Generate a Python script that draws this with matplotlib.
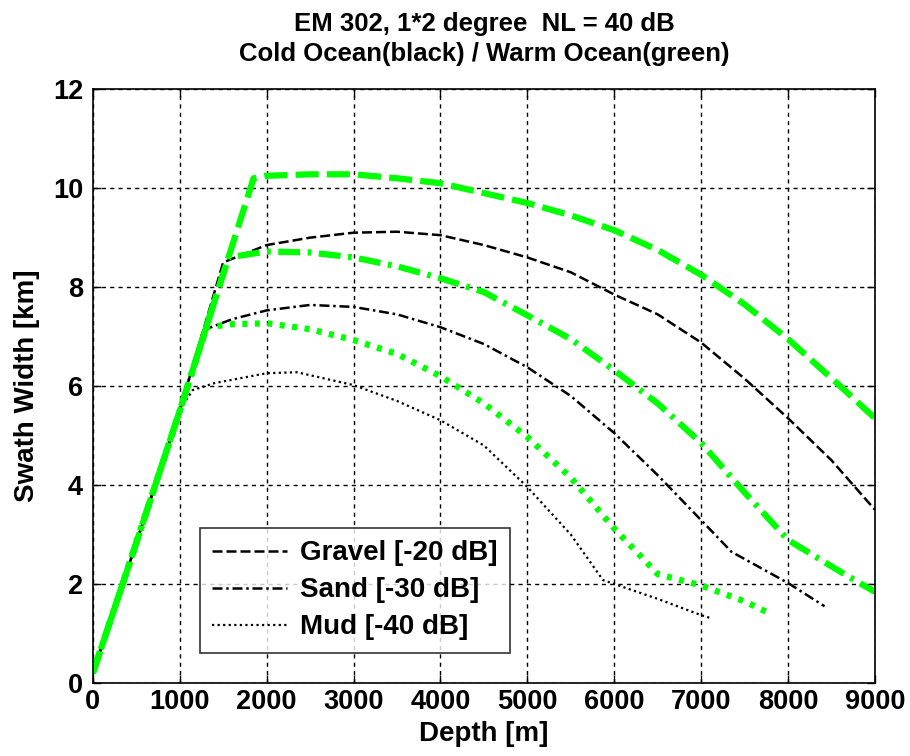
import matplotlib.pyplot as plt
from matplotlib.lines import Line2D

plt.rcParams['font.family'] = ['Liberation Sans', 'DejaVu Sans']
plt.rcParams['font.weight'] = 'bold'

# depth [m] / swath width [km]
# cold ocean (black)
cold_gravel_x = [0, 400, 1000, 1500, 2000, 2500, 3000, 3500, 4000, 4500, 5000, 5500, 6000, 6500, 7000, 7500, 8000, 8500, 9000]
cold_gravel_y = [0.2, 2.3, 5.5, 8.5, 8.85, 9.0, 9.1, 9.12, 9.05, 8.85, 8.6, 8.3, 7.85, 7.45, 6.88, 6.15, 5.35, 4.5, 3.5]
cold_sand_x = [0, 400, 1000, 1270, 1600, 2000, 2500, 3000, 3500, 4000, 4500, 5000, 5500, 6000, 6500, 7000, 7350, 8000, 8420]
cold_sand_y = [0.2, 2.3, 5.5, 7.13, 7.35, 7.53, 7.64, 7.6, 7.45, 7.19, 6.85, 6.38, 5.8, 5.05, 4.2, 3.29, 2.65, 2.02, 1.55]
cold_mud_x = [0, 400, 1000, 1150, 1400, 2000, 2350, 3000, 3500, 4000, 4500, 5000, 5500, 5870, 6000, 6500, 7000, 7130]
cold_mud_y = [0.2, 2.3, 5.52, 5.92, 6.06, 6.26, 6.28, 6.02, 5.7, 5.31, 4.8, 3.96, 3.0, 2.08, 2.0, 1.7, 1.37, 1.3]
# warm ocean (green)
warm_gravel_x = [0, 400, 1000, 1850, 2000, 2500, 3000, 3500, 4000, 4500, 5000, 5500, 6000, 6500, 7000, 7500, 8000, 8600, 9000]
warm_gravel_y = [0.2, 2.3, 5.5, 10.2, 10.25, 10.28, 10.28, 10.2, 10.1, 9.9, 9.7, 9.45, 9.15, 8.75, 8.25, 7.65, 6.95, 6.0, 5.35]
warm_sand_x = [0, 400, 1000, 1560, 2000, 2500, 3000, 3500, 4000, 4500, 5000, 5500, 6000, 6500, 7000, 7500, 8000, 8600, 9000]
warm_sand_y = [0.2, 2.3, 5.5, 8.6, 8.72, 8.7, 8.6, 8.42, 8.18, 7.9, 7.43, 6.95, 6.32, 5.65, 4.85, 3.85, 2.89, 2.25, 1.84]
warm_mud_x = [0, 400, 1000, 1310, 1600, 2000, 2500, 3000, 3500, 4000, 4500, 5000, 5500, 6000, 6500, 7000, 7500, 7770]
warm_mud_y = [0.2, 2.3, 5.5, 7.19, 7.25, 7.27, 7.15, 6.93, 6.65, 6.2, 5.65, 4.97, 4.15, 3.12, 2.2, 1.97, 1.65, 1.42]

legend_labels = ['Gravel [-20 dB]', 'Sand [-30 dB]', 'Mud [-40 dB]']

fig = plt.figure(figsize=(9.1, 7.56), dpi=100)
ax = fig.add_axes([0.102, 0.0966, 0.8595, 0.7854])

green = '#00ff00'
ax.plot(cold_gravel_x, cold_gravel_y, color='k', lw=1.8, linestyle=(0, (4, 1.6)))
ax.plot(cold_sand_x, cold_sand_y, color='k', lw=1.8, linestyle=(0, (4, 1.5, 1, 1.5)))
ax.plot(cold_mud_x, cold_mud_y, color='k', lw=1.6, linestyle=(0, (1, 1.5)))
ax.plot(warm_gravel_x, warm_gravel_y, color=green, lw=4.5, linestyle=(0, (3.7, 1.3)))
ax.plot(warm_sand_x, warm_sand_y, color=green, lw=4.5, linestyle=(0, (3.5, 1.2, 0.6, 1.2)))
ax.plot(warm_mud_x, warm_mud_y, color=green, lw=4.5, linestyle=(0, (0.8, 1.2)))

ax.set_xlim(0, 9000)
ax.set_ylim(0, 12)
ax.set_xticks(range(0, 9001, 1000))
ax.set_yticks(range(0, 13, 2))
ax.grid(True, color='k', linestyle=(0, (3, 3)), linewidth=1)
ax.tick_params(direction='in', top=True, right=True, length=6, width=1, labelsize=19.5)
ax.tick_params(axis='x', pad=4)
ax.tick_params(axis='y', pad=7)
for s in ax.spines.values():
    s.set_linewidth(1.2)

ax.set_xlabel('Depth [m]', fontsize=20, fontweight='bold', labelpad=5)
ax.set_ylabel('Swath Width [km]', fontsize=20, fontweight='bold', labelpad=9)
ax.set_title('EM 302, 1*2 degree  NL = 40 dB\nCold Ocean(black) / Warm Ocean(green)',
             fontsize=18.5, fontweight='bold', pad=20, linespacing=1.35)

handles = [Line2D([], [], color='k', lw=1.8, linestyle=(0, (4, 1.6))),
           Line2D([], [], color='k', lw=1.8, linestyle=(0, (4, 1.5, 1, 1.5))),
           Line2D([], [], color='k', lw=1.6, linestyle=(0, (1, 1.5)))]
leg = ax.legend(handles, legend_labels, loc='lower left', bbox_to_anchor=(0.137, 0.0505),
                borderaxespad=0, fontsize=20, frameon=True, fancybox=False, edgecolor='k',
                handlelength=2.7, handletextpad=0.45, borderpad=0.45, labelspacing=0.4)
leg.get_frame().set_linewidth(1.2)

fig.savefig('out.png', dpi=100)
